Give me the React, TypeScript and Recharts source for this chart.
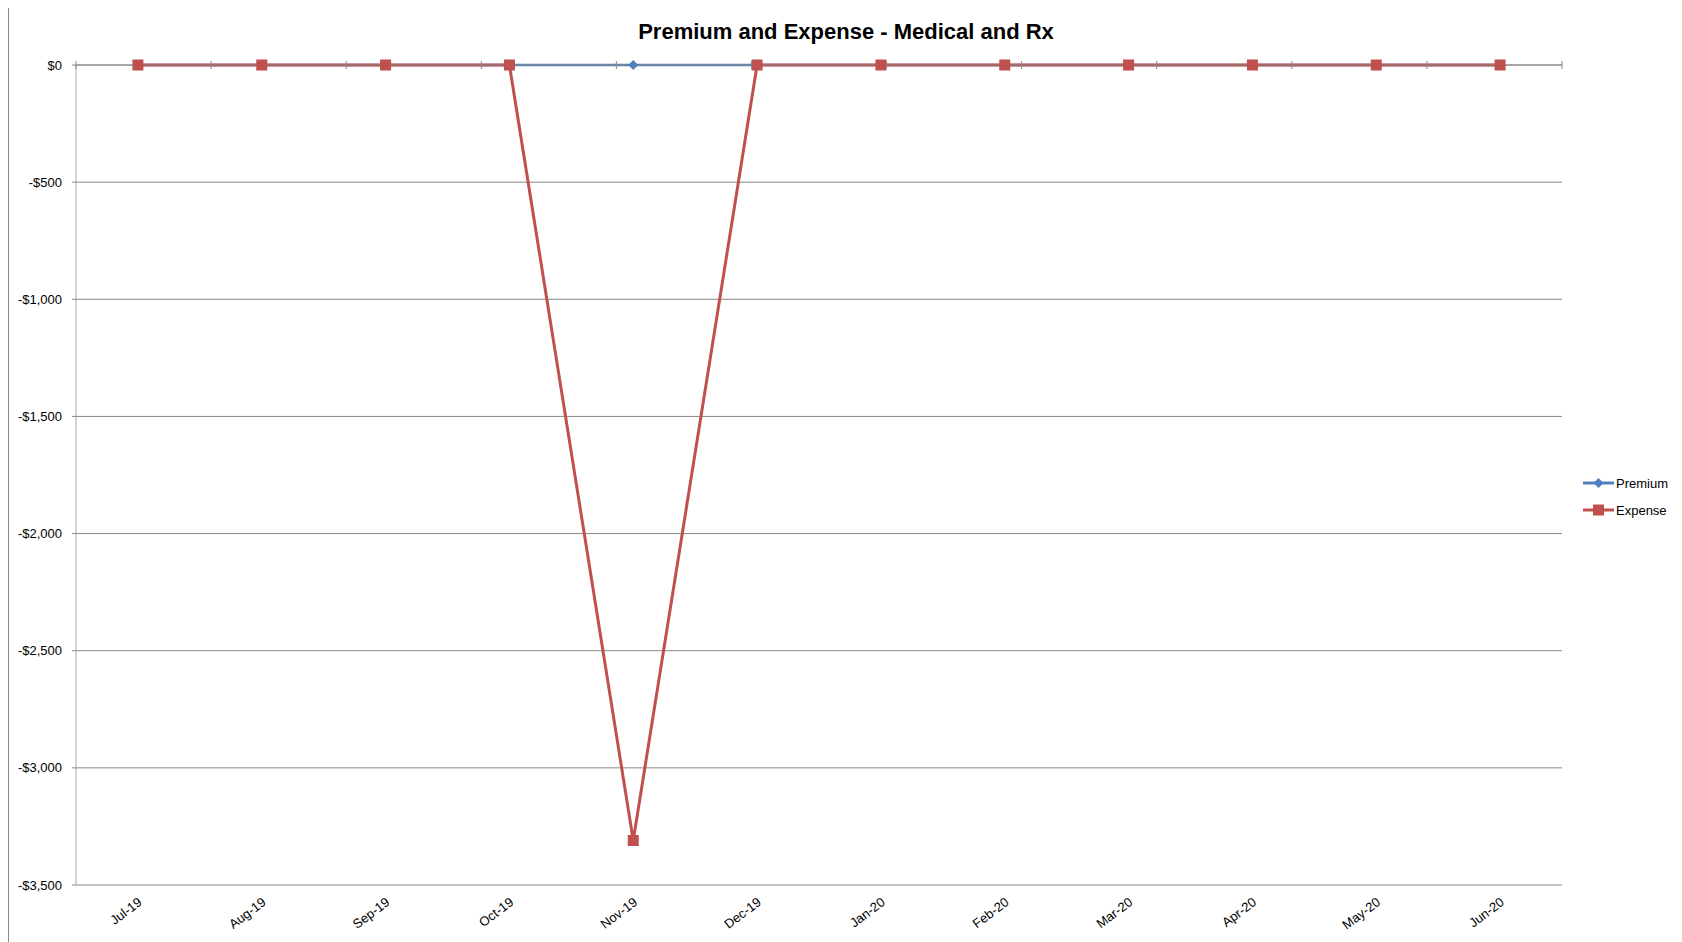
import React from "react";
import { CartesianGrid, Legend, Line, LineChart, XAxis, YAxis } from "recharts";

const months = ["Jul-19", "Aug-19", "Sep-19", "Oct-19", "Nov-19", "Dec-19", "Jan-20", "Feb-20", "Mar-20", "Apr-20", "May-20", "Jun-20"];
const premium = [0, 0, 0, 0, 0, 0, 0, 0, 0, 0, 0, 0];
const expense = [0, 0, 0, 0, -3310, 0, 0, 0, 0, 0, 0, 0];
const yTicks = [0, -500, -1000, -1500, -2000, -2500, -3000, -3500];
const boundaryTicks = [0, 1, 2, 3, 4, 5, 6, 7, 8, 9, 10, 11, 12];

const BLUE = "#4F81BD";
const RED = "#C0504D";
const FONT = "'Liberation Sans', Arial, sans-serif";

const data = months.map((m, i) => ({ month: m, premium: premium[i], expense: expense[i] }));

const money = (v: number) => (v < 0 ? "-$" : "$") + Math.abs(v).toLocaleString("en-US");

function Diamond(props: any) {
  const { cx, cy, index } = props;
  if (cx == null || cy == null) return <g key={index} />;
  const r = 5;
  return <path key={index} d={`M${cx},${cy - r}L${cx + r},${cy}L${cx},${cy + r}L${cx - r},${cy}Z`} fill={BLUE} />;
}

function Square(props: any) {
  const { cx, cy, index } = props;
  if (cx == null || cy == null) return <g key={index} />;
  return <rect key={index} x={cx - 5.5} y={cy - 5.5} width={11} height={11} fill={RED} />;
}

function MonthTick(props: any) {
  const { x, y, payload } = props;
  return (
    <text
      x={x + 5}
      y={y + 11}
      transform={`rotate(-37, ${x + 5}, ${y + 11})`}
      textAnchor="end"
      fontSize={13}
      fontFamily={FONT}
      fill="#000"
    >
      {payload.value}
    </text>
  );
}

function CrossTick(props: any) {
  const { x, y } = props;
  return <line x1={x} x2={x} y1={y - 4} y2={y + 4} stroke="#888" strokeWidth={1} />;
}

function LegendBox() {
  const items = [
    { name: "Premium", color: BLUE, shape: "diamond" },
    { name: "Expense", color: RED, shape: "square" },
  ];
  return (
    <svg width={110} height={60} style={{ overflow: "visible" }}>
      {items.map((it, i) => {
        const cy = 10 + i * 27;
        return (
          <g key={it.name}>
            <line x1={0} x2={31} y1={cy} y2={cy} stroke={it.color} strokeWidth={3} />
            {it.shape === "diamond" ? (
              <path d={`M15.5,${cy - 5}L20.5,${cy}L15.5,${cy + 5}L10.5,${cy}Z`} fill={it.color} />
            ) : (
              <rect x={10} y={cy - 5.5} width={11} height={11} fill={it.color} />
            )}
            <text x={33} y={cy + 4.5} fontSize={13} fontFamily={FONT} fill="#000">
              {it.name}
            </text>
          </g>
        );
      })}
    </svg>
  );
}

export default function App() {
  return (
    <div
      style={{
        position: "relative",
        marginTop: -4,
        width: 1674,
        height: 938,
        borderLeft: "1px solid #8a8a8a",
        borderTop: "1px solid #8a8a8a",
        boxSizing: "border-box",
        fontFamily: FONT,
        overflow: "hidden",
      }}
    >
      <div
        style={{
          position: "absolute",
          left: 0,
          width: 1674,
          top: 14,
          textAlign: "center",
          fontSize: 22,
          fontWeight: "bold",
          color: "#000",
        }}
      >
        Premium and Expense - Medical and Rx
      </div>
      <LineChart width={1673} height={937} data={data} margin={{ top: 59, right: 120, bottom: 7, left: 7 }}>
        <CartesianGrid vertical={false} stroke="#888" strokeWidth={1} />
        <XAxis
          dataKey="month"
          scale="band"
          axisLine={false}
          tickLine={false}
          interval={0}
          height={50}
          tick={<MonthTick />}
        />
        <XAxis
          xAxisId="bound"
          type="number"
          orientation="top"
          domain={[0, 12]}
          ticks={boundaryTicks}
          allowDataOverflow
          height={1}
          tickSize={0}
          tickMargin={0}
          axisLine={{ stroke: "#888" }}
          tickLine={false}
          tick={<CrossTick />}
          interval={0}
        />
        <YAxis
          domain={[-3500, 0]}
          ticks={yTicks}
          width={60}
          interval={0}
          tickSize={4}
          tickMargin={10}
          tickFormatter={money}
          axisLine={{ stroke: "#aaa" }}
          tickLine={{ stroke: "#888" }}
          tick={{ fontSize: 13, fill: "#000", fontFamily: FONT }}
        />
        <Legend
          layout="vertical"
          align="center"
          verticalAlign="middle"
          content={<LegendBox />}
          wrapperStyle={{ position: "absolute", left: 1574, top: 468, width: 110 }}
        />
        <Line
          type="linear"
          dataKey="premium"
          name="Premium"
          stroke={BLUE}
          strokeWidth={2.5}
          dot={<Diamond />}
          activeDot={false}
          isAnimationActive={false}
        />
        <Line
          type="linear"
          dataKey="expense"
          name="Expense"
          stroke={RED}
          strokeWidth={3}
          dot={<Square />}
          activeDot={false}
          isAnimationActive={false}
        />
      </LineChart>
    </div>
  );
}
